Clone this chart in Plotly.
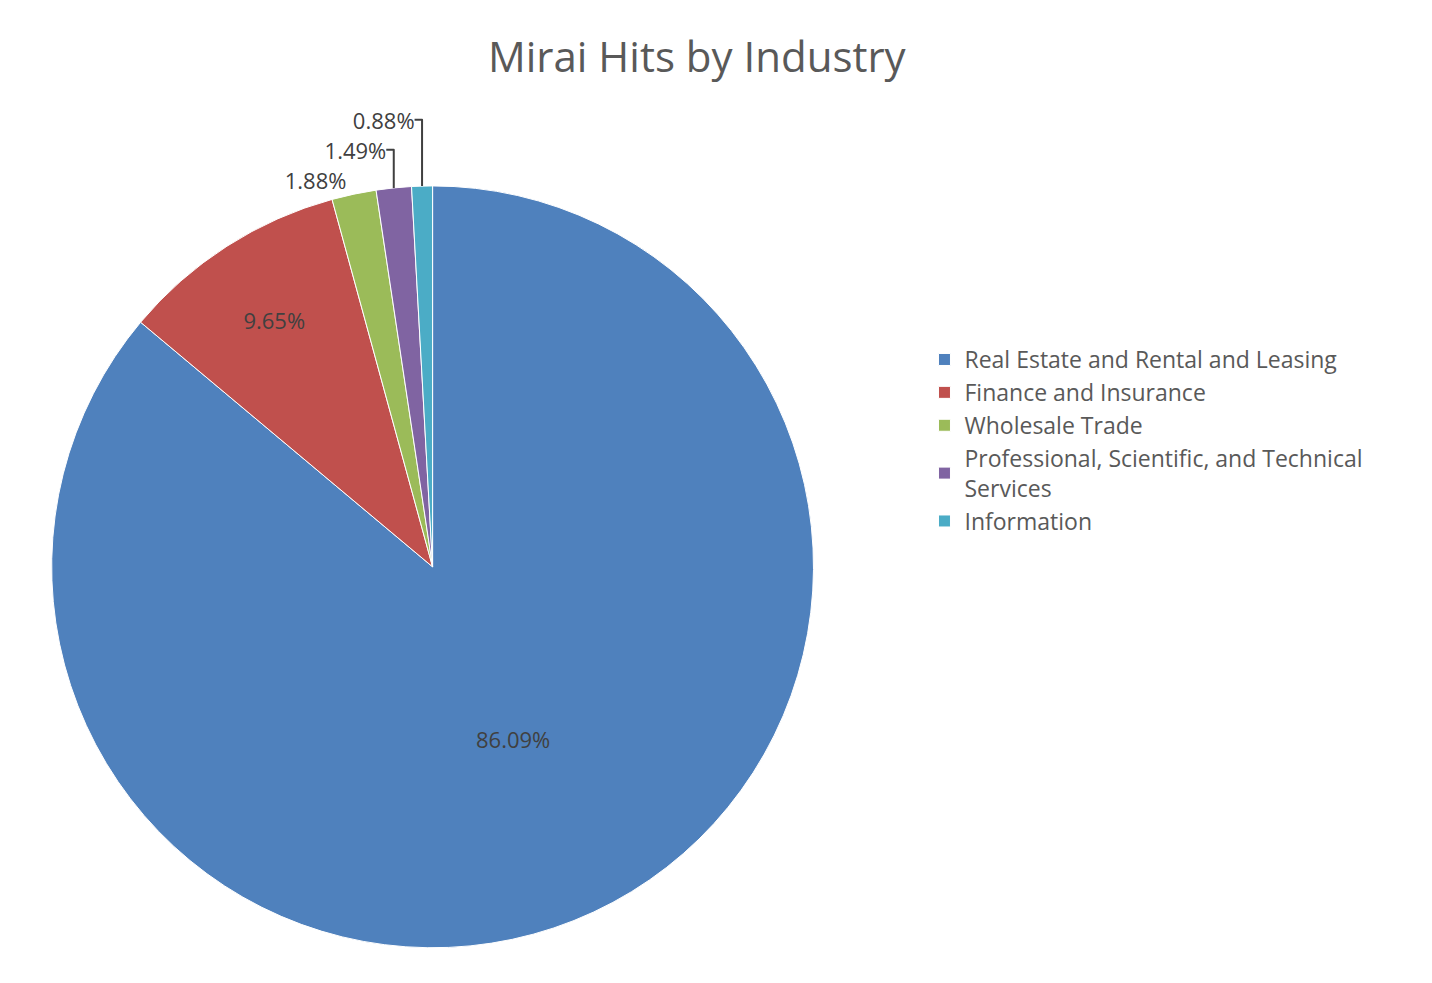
import plotly.graph_objects as go

industries = [
    "Real Estate and Rental and Leasing",
    "Finance and Insurance",
    "Wholesale Trade",
    "Professional, Scientific, and Technical<br>Services",
    "Information",
]
shares = [86.09, 9.65, 1.88, 1.49, 0.88]
colors = ["#4F81BD", "#C0504D", "#9BBB59", "#8064A2", "#4BACC6"]
positions = ["inside", "inside", "outside", "outside", "outside"]

fig = go.Figure(go.Pie(
    labels=industries,
    values=shares,
    sort=False,
    direction="clockwise",
    rotation=0,
    marker=dict(colors=colors, line=dict(color="white", width=1)),
    texttemplate="%{value:.2f}%",
    textposition=positions,
    insidetextorientation="horizontal",
    textfont=dict(size=22, color="#404040", family="Open Sans"),
    domain=dict(x=[0.030, 0.563], y=[0.044, 0.819]),
    hoverinfo="label+percent",
))

fig.update_layout(
    width=1432, height=983,
    paper_bgcolor="white",
    margin=dict(l=0, r=0, t=0, b=0),
    title=dict(text="Mirai Hits by Industry", x=0.481, xanchor="center", y=0.965,
               font=dict(size=42, color="#595959", family="Open Sans")),
    legend=dict(x=0.64, y=0.56, yanchor="middle", xanchor="left",
                font=dict(size=23, color="#595959", family="Open Sans"),
                tracegroupgap=40),
    showlegend=True,
)

fig.write_html("out.html")
